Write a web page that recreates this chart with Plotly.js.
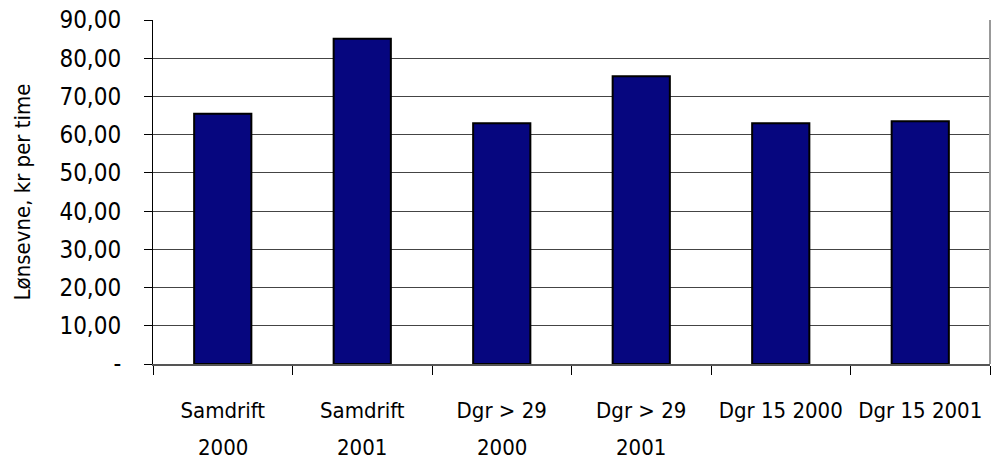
<!DOCTYPE html>
<html>
<head>
<meta charset="utf-8">
<script src="https://cdn.plot.ly/plotly-3.0.1.min.js"></script>
<style>html,body{margin:0;padding:0;background:#fff;}#chart{width:991px;height:469px;}</style>
</head>
<body>
<div id="chart"></div>
<script>
var categories = ["Samdrift 2000", "Samdrift 2001", "Dgr > 29 2000", "Dgr > 29 2001", "Dgr 15 2000", "Dgr 15 2001"];
var labelLine1 = ["Samdrift", "Samdrift", "Dgr &gt; 29", "Dgr &gt; 29", "Dgr 15 2000", "Dgr 15 2001"];
var labelLine2 = ["2000", "2001", "2000", "2001", "", ""];
var values = [65.5, 85.1, 63.0, 75.3, 63.0, 63.5];
var yTickVals = [0, 10, 20, 30, 40, 50, 60, 70, 80, 90];
var yTickText = ["-", "10,00", "20,00", "30,00", "40,00", "50,00", "60,00", "70,00", "80,00", "90,00"];
var yTitle = "Lønsevne, kr per time";

var FONT = "'Liberation Sans Narrow', 'DejaVu Sans Condensed', 'Arial Narrow', sans-serif";

var annotations = categories.map(function(c, i) {
  return {
    x: c, xref: "x", y: 0, yref: "paper",
    text: labelLine2[i], showarrow: false,
    yanchor: "middle", xanchor: "center", yshift: -83,
    font: {family: FONT, size: 22, color: "#000"}
  };
});

var data = [{
  type: "bar",
  x: categories,
  y: values,
  marker: {color: "#06067f", line: {color: "#000", width: 2}},
  hoverinfo: "skip"
}];

var layout = {
  width: 991, height: 469,
  margin: {l: 153, r: 1, t: 20, b: 105},
  paper_bgcolor: "#fff", plot_bgcolor: "#fff",
  showlegend: false,
  bargap: 0.59,
  font: {family: FONT, size: 22, color: "#000"},
  xaxis: {
    type: "category",
    tickmode: "array", tickvals: categories, ticktext: labelLine1,
    tickangle: 0,
    tickson: "boundaries",
    ticks: "outside", ticklen: 9, tickcolor: "#000", tickwidth: 1,
    showline: true, linecolor: "#555", linewidth: 2,
    showgrid: false, zeroline: false,
    ticklabelstandoff: 26,
    tickfont: {family: FONT, size: 22, color: "#000"}
  },
  yaxis: {
    range: [0, 90],
    tickmode: "array", tickvals: yTickVals, ticktext: yTickText,
    ticks: "outside", ticklen: 8, tickcolor: "#000", tickwidth: 1,
    showline: true, linecolor: "#000", linewidth: 1,
    showgrid: true, gridcolor: "#444", gridwidth: 1,
    zeroline: false,
    ticklabelstandoff: 18,
    tickfont: {family: FONT, size: 24, color: "#000"},
    title: {text: yTitle, font: {family: FONT, size: 22, color: "#000"}, standoff: 22}
  },
  shapes: [{
    type: "line", xref: "paper", yref: "paper", x0: 1, x1: 1, y0: 0, y1: 1,
    line: {color: "#999", width: 2}
  }],
  annotations: annotations
};

Plotly.newPlot("chart", data, layout, {displayModeBar: false, staticPlot: true});
</script>
</body>
</html>
